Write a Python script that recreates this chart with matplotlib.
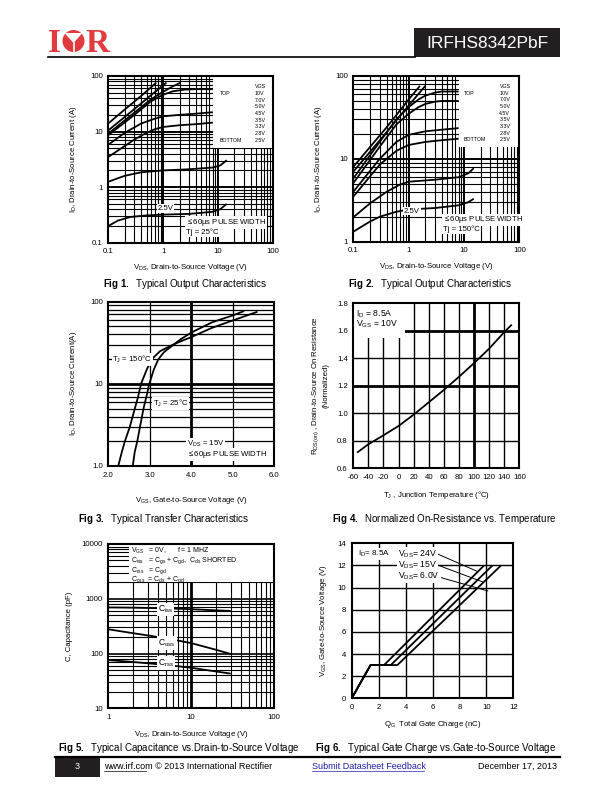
import numpy as np
import matplotlib
matplotlib.use("Agg")
import matplotlib.pyplot as plt
from matplotlib.patches import Rectangle, Circle, Polygon

plt.rcParams['font.family'] = ['Liberation Sans', 'DejaVu Sans']
plt.rcParams['mathtext.fontset'] = 'custom'
plt.rcParams['mathtext.rm'] = 'Liberation Sans'
plt.rcParams['mathtext.it'] = 'Liberation Sans:italic'
plt.rcParams['mathtext.bf'] = 'Liberation Sans:bold'

# ---------------- data ----------------
vgs_labels = ["10V", "7.0V", "5.0V", "4.5V", "3.5V", "3.3V", "2.8V", "2.5V"]

# Fig 1 : output characteristics, Tj = 25 C  (VDS in V, ID in A)
f1_vds_10v = [0.1, 0.2, 0.4, 0.75]
f1_id_10v = [14, 25, 44, 76]
f1_vds_7v = [0.1, 0.3, 0.6, 1.15]
f1_id_7v = [10.5, 25.5, 45, 76]
f1_vds_5v = [0.1, 0.3, 0.6, 1.0, 1.5, 2.1]
f1_id_5v = [9.2, 22, 38, 52, 65, 76]
f1_vds_45v = [0.1, 0.3, 0.6, 1.0, 1.5, 2.5, 4.0, 8.1]
f1_id_45v = [8.6, 20, 35, 46, 53, 57, 58, 58]
f1_vds_35v = [0.1, 0.2, 0.4, 0.7, 1.0, 2.0, 4.0, 8.1]
f1_id_35v = [5.8, 9.5, 14, 17, 18.8, 20, 21, 22.3]
f1_vds_33v = [0.1, 0.2, 0.3, 0.5, 0.7, 1.0, 2.0, 4.0, 8.1]
f1_id_33v = [3.5, 5.5, 7.2, 9.5, 11, 12.1, 13, 13.6, 14.5]
f1_vds_28v = [0.1, 0.2, 0.4, 1.0, 3.0, 8.0, 11.0, 14.5]
f1_id_28v = [1.25, 1.6, 1.85, 2.0, 2.1, 2.25, 2.45, 3.05]
f1_vds_25v = [0.1, 0.15, 0.25, 0.5, 1.0, 3.0, 8.0, 11.0, 14.5]
f1_id_25v = [0.2, 0.25, 0.29, 0.31, 0.32, 0.33, 0.36, 0.4, 0.5]

# Fig 2 : output characteristics, Tj = 150 C
f2_vds_10v = [0.1, 0.4, 1.0, 1.6]
f2_id_10v = [8, 24, 52, 76]
f2_vds_7v = [0.1, 0.4, 1.0, 2.0]
f2_id_7v = [7, 21, 44, 76]
f2_vds_5v = [0.1, 0.3, 0.6, 1.0, 1.5, 2.0, 3.0, 4.0, 8.0]
f2_id_5v = [5.8, 16, 30, 42, 52, 58, 63, 65, 65]
f2_vds_45v = [0.1, 0.3, 0.6, 1.0, 1.5, 2.0, 3.0, 4.0, 8.0]
f2_id_45v = [5.1, 14, 26, 35, 42, 46, 49, 50, 50]
f2_vds_35v = [0.1, 0.3, 0.6, 1.0, 2.0, 4.0, 8.0]
f2_id_35v = [4.0, 10, 16, 19.5, 21.5, 22.5, 23.5]
f2_vds_33v = [0.1, 0.3, 0.6, 1.0, 2.0, 4.0, 8.0]
f2_id_33v = [3.5, 8.5, 12.5, 14.7, 16, 16.8, 17.5]
f2_vds_28v = [0.1, 0.2, 0.4, 0.7, 1.0, 3.0, 8.0, 12.0, 15.0]
f2_id_28v = [1.97, 2.9, 4.0, 4.9, 5.3, 5.6, 6.0, 6.7, 7.7]
f2_vds_25v = [0.1, 0.2, 0.3, 0.6, 1.0, 3.0, 8.0, 12.0, 15.0]
f2_id_25v = [1.32, 1.75, 2.0, 2.3, 2.45, 2.55, 2.75, 3.0, 3.3]

# Fig 3 : transfer characteristics (VGS in V, ID in A)
f3_vgs_25c = [2.59, 2.64, 2.70, 2.765, 2.85, 2.92, 2.99, 3.10, 3.21, 3.35, 3.5, 3.75, 4.0, 4.5, 5.0, 5.28]
f3_id_25c = [1.0, 1.5, 2.0, 3.0, 5.0, 7.0, 10, 15, 20, 24.5, 28, 35, 42, 56, 68, 77]
f3_vgs_150c = [2.24, 2.33, 2.40, 2.52, 2.64, 2.72, 2.79, 2.93, 3.05, 3.25, 3.5, 3.75, 4.0, 4.5, 5.0, 5.6]
f3_id_150c = [1.0, 1.5, 2.0, 3.0, 5.0, 7.0, 10, 15, 20, 25, 29, 33, 37, 48, 59, 75.5]

# Fig 4 : normalized on-resistance vs temperature
f4_tj = [-55, -40, -20, 0, 20, 40, 60, 80, 100, 120, 140, 150]
f4_rds = [0.714, 0.775, 0.84, 0.908, 0.99, 1.08, 1.17, 1.265, 1.365, 1.47, 1.59, 1.645]

# Fig 5 : capacitance vs VDS (pF)
f5_vds = [1, 2, 5, 10, 20, 30]
f5_ciss = [695, 688, 668, 645, 615, 600]
f5_coss = [277, 235, 190, 155, 117, 98]
f5_crss = [76, 70, 62, 55, 47, 43]

# Fig 6 : gate charge (QG in nC, VGS in V)
f6_qg_24v = [0, 1.4, 2.4, 9.83]
f6_qg_15v = [0, 1.4, 2.9, 10.45]
f6_qg_6v = [0, 1.4, 3.39, 11.09]
f6_vgs = [0, 3.0, 3.0, 12.0]

# ---------------- figure ----------------
W, H = 612, 792
fig = plt.figure(figsize=(W / 100, H / 100), dpi=100)

def px_axes(x0, y0, x1, y1):
    return fig.add_axes([x0 / W, 1 - y1 / H, (x1 - x0) / W, (y1 - y0) / H])

TICK = 5.6
LAB = 5.6
GRID_C = 'black'

def style(ax):
    for s in ax.spines.values():
        s.set_linewidth(1.5)
    ax.tick_params(which='both', length=0, labelsize=TICK, pad=4)
    ax.set_axisbelow(True)

def log_lines(lo_exp, hi_exp):
    major = [10.0 ** e for e in range(lo_exp, hi_exp + 1)]
    minor = [m * 10.0 ** e for e in range(lo_exp, hi_exp) for m in range(2, 10)]
    return major, minor

def vlines(ax, xs, lw):
    for x in xs:
        ax.axvline(x, color=GRID_C, lw=lw, zorder=0.5)

def hlines(ax, ys, lw):
    for y in ys:
        ax.axhline(y, color=GRID_C, lw=lw, zorder=0.5)

CURVE = dict(color='black', lw=1.3, zorder=3, solid_capstyle='butt', solid_joinstyle='round')
WHITE = dict(facecolor='white', edgecolor='none', pad=0.6)

def output_chart(ax, curves, tj_text, lbl25_xy, pulse_xy, box_xy, top_x, vals_x):
    ax.set_xscale('log')
    ax.set_xlim(0.1, 100)
    style(ax)
    xmaj, xmin = log_lines(-1, 2)
    vlines(ax, xmin, 0.8); vlines(ax, xmaj, 1.4)
    for x, y in curves:
        ax.plot(x, y, **CURVE)
    ax.set_xticks([0.1, 1, 10, 100]); ax.set_xticklabels(['0.1', '1', '10', '100'])
    ax.set_xticks([], minor=True)
    ax.set_xlabel(r'V$_\mathregular{DS}$, Drain-to-Source Voltage (V)', fontsize=LAB, labelpad=5)
    ax.add_patch(Rectangle((box_xy[0], box_xy[1]), 1 - box_xy[0], 1 - box_xy[1],
                           transform=ax.transAxes, facecolor='white', edgecolor='none', zorder=1.5))
    ax.text(vals_x + 0.035, 0.936, 'VGS', transform=ax.transAxes, fontsize=3.8, ha='center', va='center', zorder=4)
    for i, s in enumerate(vgs_labels):
        yy = 0.896 - i * 0.04
        ax.text(vals_x, yy, s, transform=ax.transAxes, fontsize=3.8, va='center', zorder=4)
    ax.text(top_x, 0.896, 'TOP', transform=ax.transAxes, fontsize=3.8, va='center', zorder=4)
    ax.text(top_x, 0.896 - 7 * 0.04, 'BOTTOM', transform=ax.transAxes, fontsize=3.8, va='center', zorder=4)
    ax.text(lbl25_xy[0], lbl25_xy[1], '2.5V', transform=ax.transAxes, fontsize=5.6, va='center', zorder=4, bbox=WHITE)
    ax.text(pulse_xy[0], pulse_xy[1], r'$\leq$60µs PULSE WIDTH', transform=ax.transAxes, fontsize=5.6,
            va='center', zorder=4, bbox=WHITE)
    ax.text(pulse_xy[0], pulse_xy[1] - 0.055, tj_text, transform=ax.transAxes, fontsize=5.6,
            va='center', zorder=4, bbox=WHITE)
    ax.set_ylabel(r'I$_\mathregular{D}$, Drain-to-Source Current (A)', fontsize=LAB, labelpad=8)

# ---------- Fig 1 ----------
ax1 = px_axes(108.3, 76, 272.7, 242.7)
ax1.set_yscale('log')
ax1.set_ylim(0.1, 100)
ymaj, ymin = log_lines(-1, 2)
hlines(ax1, ymin, 0.8); hlines(ax1, ymaj, 1.4)
output_chart(ax1,
             [(f1_vds_10v, f1_id_10v), (f1_vds_7v, f1_id_7v), (f1_vds_5v, f1_id_5v),
              (f1_vds_45v, f1_id_45v), (f1_vds_35v, f1_id_35v), (f1_vds_33v, f1_id_33v),
              (f1_vds_28v, f1_id_28v), (f1_vds_25v, f1_id_25v)],
             'Tj = 25°C', (0.30, 0.205), (0.473, 0.12), (0.637, 0.568), 0.68, 0.89)
ax1.set_ylim(0.1, 100)
ax1.set_yticks([0.1, 1, 10, 100]); ax1.set_yticklabels(['0.1', '1', '10', '100'])
ax1.set_yticks([], minor=True)

# ---------- Fig 2 ----------
ax2 = px_axes(353.3, 76, 519.3, 241.7)
ax2.set_yscale('log')
ax2.set_ylim(1, 100)
ymaj, ymin = log_lines(0, 2)
hlines(ax2, ymin, 0.8); hlines(ax2, ymaj, 1.4)
output_chart(ax2,
             [(f2_vds_10v, f2_id_10v), (f2_vds_7v, f2_id_7v), (f2_vds_5v, f2_id_5v),
              (f2_vds_45v, f2_id_45v), (f2_vds_35v, f2_id_35v), (f2_vds_33v, f2_id_33v),
              (f2_vds_28v, f2_id_28v), (f2_vds_25v, f2_id_25v)],
             'Tj = 150°C', (0.305, 0.185), (0.539, 0.131), (0.639, 0.573), 0.667, 0.88)
ax2.set_ylim(1, 100)
ax2.set_yticks([1, 10, 100]); ax2.set_yticklabels(['1', '10', '100'])
ax2.set_yticks([], minor=True)

# ---------- Fig 3 ----------
ax3 = px_axes(108.3, 301.7, 274, 466)
ax3.set_yscale('log')
ax3.set_xlim(2.0, 6.0); ax3.set_ylim(1.0, 100)
style(ax3)
f3_xticks = [2.0, 3.0, 4.0, 5.0, 6.0]
vlines(ax3, [3.0, 5.0], 0.9); vlines(ax3, [4.0], 2.0)
ymaj, ymin = log_lines(0, 2)
hlines(ax3, ymin, 0.9); hlines(ax3, [10], 2.0)
ax3.plot(f3_vgs_25c, f3_id_25c, **CURVE)
ax3.plot(f3_vgs_150c, f3_id_150c, **CURVE)
ax3.set_xticks(f3_xticks); ax3.set_xticklabels(['%.1f' % v for v in f3_xticks])
ax3.set_yticks([1, 10, 100]); ax3.set_yticklabels(['1.0', '10', '100'])
ax3.set_yticks([], minor=True)
ax3.text(2.1, 20, r'T$_\mathregular{J}$ = 150°C', fontsize=5.6, va='center', zorder=4, bbox=WHITE)
ax3.text(3.07, 5.8, r'T$_\mathregular{J}$ = 25°C', fontsize=5.6, va='center', zorder=4, bbox=WHITE)
ax3.text(3.9, 1.85, r'V$_\mathregular{DS}$ = 15V', fontsize=5.6, va='center', zorder=4, bbox=WHITE)
ax3.text(3.9, 1.37, r'$\leq$60µs PULSE WIDTH', fontsize=5.6, va='center', zorder=4, bbox=WHITE)
ax3.set_xlabel(r'V$_\mathregular{GS}$, Gate-to-Source Voltage (V)', fontsize=LAB, labelpad=12)
ax3.set_ylabel(r'I$_\mathregular{D}$, Drain-to-Source Current(A)', fontsize=LAB, labelpad=8)

# ---------- Fig 4 ----------
ax4 = px_axes(353.3, 303.3, 519.3, 468.3)
ax4.set_xlim(-60, 160); ax4.set_ylim(0.6, 1.8)
style(ax4)
f4_xticks = list(range(-60, 161, 20))
f4_yticks = [0.6, 0.8, 1.0, 1.2, 1.4, 1.6, 1.8]
vlines(ax4, [x for x in f4_xticks[1:-1] if x != 100], 1.0); vlines(ax4, [100], 2.0)
hlines(ax4, [0.8, 1.0, 1.4], 1.0); hlines(ax4, [1.2, 1.6], 2.0)
ax4.add_patch(Rectangle((-60, 1.55), 68, 0.25, facecolor='white', edgecolor='none', zorder=1.5))
ax4.plot(f4_tj, f4_rds, **CURVE)
ax4.set_xticks(f4_xticks); ax4.set_xticklabels([str(v) for v in f4_xticks])
ax4.set_yticks(f4_yticks); ax4.set_yticklabels(['%.1f' % v for v in f4_yticks])
ax4.text(-56, 1.727, r'I$_\mathregular{D}$ = 8.5A', fontsize=6.2, va='center', zorder=4)
ax4.text(-56, 1.647, r'V$_\mathregular{GS}$ = 10V', fontsize=6.2, va='center', zorder=4)
ax4.set_xlabel(r'T$_\mathregular{J}$ , Junction Temperature (°C)', fontsize=LAB, labelpad=6)
ax4.set_ylabel(r'R$_\mathregular{DS(on)}$ , Drain-to-Source On Resistance' + '\n(Normalized)',
               fontsize=LAB, labelpad=5, linespacing=1.3)

# ---------- Fig 5 ----------
ax5 = px_axes(108.3, 544, 274, 708.3)
ax5.set_xscale('log'); ax5.set_yscale('log')
ax5.set_xlim(1, 100); ax5.set_ylim(10, 10000)
style(ax5)
xmaj, xmin = log_lines(0, 2)
vlines(ax5, xmin, 0.8); vlines(ax5, [10], 2.0)
ymaj, ymin = log_lines(1, 4)
hlines(ax5, ymin, 0.8); hlines(ax5, ymaj, 1.2)
ax5.add_patch(Rectangle((0.125, 0.77), 0.875, 0.23, transform=ax5.transAxes,
                        facecolor='white', edgecolor='none', zorder=1.5))
ax5.plot(f5_vds, f5_ciss, **CURVE)
ax5.plot(f5_vds, f5_coss, **CURVE)
ax5.plot(f5_vds, f5_crss, **CURVE)
ax5.set_xticks([1, 10, 100]); ax5.set_xticklabels(['1', '10', '100'])
ax5.set_yticks([10, 100, 1000, 10000]); ax5.set_yticklabels(['10', '100', '1000', '10000'])
ax5.set_xticks([], minor=True); ax5.set_yticks([], minor=True)
leg5 = [r'V$_\mathregular{GS}$   = 0V,      f = 1 MHZ',
        r'C$_\mathregular{iss}$   = C$_\mathregular{gs}$ + C$_\mathregular{gd}$,  C$_\mathregular{ds}$ SHORTED',
        r'C$_\mathregular{rss}$   = C$_\mathregular{gd}$',
        r'C$_\mathregular{oss}$  = C$_\mathregular{ds}$ + C$_\mathregular{gd}$']
for i, s in enumerate(leg5):
    ax5.text(0.14, 0.955 - i * 0.058, s, transform=ax5.transAxes, fontsize=5.0, va='center', zorder=4)
ax5.text(4.0, 640, r'C$_\mathregular{iss}$', fontsize=6.2, va='center', zorder=4, bbox=WHITE)
ax5.text(4.0, 155, r'C$_\mathregular{oss}$', fontsize=6.2, va='center', zorder=4, bbox=WHITE)
ax5.text(4.0, 67, r'C$_\mathregular{rss}$', fontsize=6.2, va='center', zorder=4, bbox=WHITE)
ax5.set_xlabel(r'V$_\mathregular{DS}$, Drain-to-Source Voltage (V)', fontsize=LAB, labelpad=6)
ax5.set_ylabel('C, Capacitance (pF)', fontsize=LAB, labelpad=6)

# ---------- Fig 6 ----------
ax6 = px_axes(351.7, 543.3, 513.3, 698.3)
ax6.set_xlim(0, 12); ax6.set_ylim(0, 14)
style(ax6)
f6_xticks = list(range(0, 13, 2))
f6_yticks = list(range(0, 15, 2))
vlines(ax6, f6_xticks[1:-1], 1.0)
hlines(ax6, f6_yticks[1:-1], 1.0)
ax6.plot(f6_qg_24v, f6_vgs, **CURVE)
ax6.plot(f6_qg_15v, f6_vgs, **CURVE)
ax6.plot(f6_qg_6v, f6_vgs, **CURVE)
ax6.set_xticks(f6_xticks); ax6.set_xticklabels([str(v) for v in f6_xticks])
ax6.set_yticks(f6_yticks); ax6.set_yticklabels([str(v) for v in f6_yticks])
ax6.text(0.45, 13.05, r'I$_\mathregular{D}$= 8.5A', fontsize=5.8, va='center', zorder=4, bbox=WHITE)
f6_labels = [r'V$_\mathregular{DS}$= 24V', r'V$_\mathregular{DS}$= 15V', r'V$_\mathregular{DS}$= 6.0V']
f6_lab_y = [13.05, 12.05, 11.0]
f6_ptr = [(9.35, 11.45), (9.75, 10.5), (10.1, 9.7)]
for s, yy, (px, py) in zip(f6_labels, f6_lab_y, f6_ptr):
    ax6.text(3.45, yy, s, fontsize=6.2, va='center', zorder=4, bbox=WHITE)
    ax6.plot([6.35, px], [yy, py], color='black', lw=0.7, zorder=3)
ax6.set_xlabel(r'Q$_\mathregular{G}$  Total Gate Charge (nC)', fontsize=LAB, labelpad=6)
ax6.set_ylabel(r'V$_\mathregular{GS}$, Gate-to-Source Voltage (V)', fontsize=LAB, labelpad=6)

# ---------------- page furniture ----------------
pg = fig.add_axes([0, 0, 1, 1])
pg.set_xlim(0, W); pg.set_ylim(H, 0); pg.axis('off')

captions = [(103, 284, 'Fig 1.', 'Typical Output Characteristics'),
            (348, 284, 'Fig 2.', 'Typical Output Characteristics'),
            (78, 519, 'Fig 3.', 'Typical Transfer Characteristics'),
            (332, 519, 'Fig 4.', 'Normalized On-Resistance vs. Temperature'),
            (58, 748, 'Fig 5.', 'Typical Capacitance vs.Drain-to-Source Voltage'),
            (315, 748, 'Fig 6.', 'Typical Gate Charge vs.Gate-to-Source Voltage')]
for cx, cy, head, body in captions:
    pg.text(cx, cy, r'$\mathbf{' + head.replace(' ', r'\ ') + r'}$' + '  ' + body,
            fontsize=7.0, va='center', ha='left')

red = '#e23b3f'
pg.text(48, 52.5, 'I', fontsize=24, fontweight='bold', family='Liberation Serif', color=red, va='baseline')
pg.add_patch(Circle((73.5, 41), 11, facecolor=red, edgecolor='none'))
pg.add_patch(Polygon([(64.5, 33), (82.5, 33), (73.5, 43)], closed=True, facecolor='white', edgecolor='none'))
pg.plot([73.5, 73.5], [43, 52.5], color='white', lw=1.2)
pg.text(85, 52.5, 'R', fontsize=24, fontweight='bold', family='Liberation Serif', color=red, va='baseline')
pg.plot([48, 415], [56.5, 56.5], color='black', lw=1.2)
pg.add_patch(Rectangle((414, 28), 146, 29, facecolor='#231f20', edgecolor='none'))
pg.text(487, 43, 'IRFHS8342PbF', fontsize=12.5, color='white', ha='center', va='center')

pg.plot([55, 560], [757, 757], color='black', lw=1.6)
pg.add_patch(Rectangle((55, 757), 45, 20, facecolor='#231f20', edgecolor='none'))
pg.text(77, 766.5, '3', fontsize=6.5, color='white', ha='center', va='center')
pg.text(104, 766.5, 'www.irf.com © 2013 International Rectifier', fontsize=6.5, va='center')
pg.plot([104, 146], [770.5, 770.5], color='black', lw=0.5)
pg.text(312, 766.5, 'Submit Datasheet Feedback', fontsize=6.5, va='center', color='#1f1fa8')
pg.plot([312, 424], [770.5, 770.5], color='#1f1fa8', lw=0.5)
pg.text(557, 766.5, 'December 17, 2013', fontsize=6.5, va='center', ha='right')

fig.savefig('out.png', dpi=100)
